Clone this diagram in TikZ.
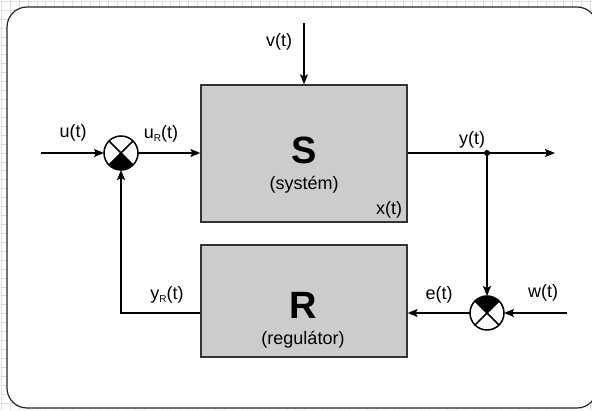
\documentclass[tikz,border=0pt]{standalone}
\usepackage{fontspec}
\setmainfont{Liberation Sans}
\usetikzlibrary{arrows.meta}
\newcommand{\subR}{\raisebox{-3pt}{\fontsize{10}{10}\selectfont R}}
\begin{document}
\begin{tikzpicture}[x=1pt,y=1pt,
  lbl/.style={font=\fontsize{18}{20}\selectfont, inner sep=0pt},
  title/.style={font=\fontsize{38}{40}\selectfont\bfseries, inner sep=0pt},
  block/.style={draw=black!80, fill=black!20, line width=1.3pt, minimum width=206pt, inner sep=0pt},
  sig/.style={line width=1.4pt, -{Stealth[length=10pt,width=8pt,inset=2pt]}},
  wire/.style={line width=1.4pt},
  sumj/.style={circle, draw, fill=white, line width=1.5pt, minimum size=34pt, inner sep=0pt, outer sep=0pt},
  gridline/.style={black!13, line width=0.6pt},
]
\useasboundingbox (0,0) rectangle (592,410);
\clip (0,0) rectangle (592,410);

% background grid
\foreach \i in {0,...,66} \draw[gridline] (1.1+\i*8.93,0) -- ++(0,410);
\foreach \i in {0,...,46} \draw[gridline] (0,408.9-\i*8.93) -- ++(592,0);

% sheet
\draw[fill=white, draw=black!85, line width=1.2pt, rounded corners=20pt] (7,2) rectangle (597,403);

% blocks
\node[block, minimum height=137pt] (S) at (304,256.5) {};
\node[block, minimum height=112pt] (R) at (304,109) {};
\node[title] (Sname) at (304,260) {S};
\node[lbl] (Sdesc) at (304,225) {(systém)};
\node[lbl] (xlab) at (389,200) {x(t)};
\node[title] (Rname) at (303,105) {R};
\node[lbl] (Rdesc) at (303,70) {(regulátor)};

% summing junctions
\node[sumj] (j1) at (121,257) {};
\node[sumj] (j2) at (487,97) {};
\fill (j1.center) -- (j1.225) arc[start angle=225, end angle=315, radius=17pt] -- cycle;
\fill (j2.center) -- (j2.45) arc[start angle=45, end angle=135, radius=17pt] -- cycle;
\draw[line width=1.5pt] (j1.45) -- (j1.225) (j1.135) -- (j1.315);
\draw[line width=1.5pt] (j2.45) -- (j2.225) (j2.135) -- (j2.315);

% free ends and branch point
\coordinate (uin) at (41,257);
\coordinate (yout) at (555,257);
\coordinate (ydot) at (487,257);
\coordinate (win) at (567,97);
\coordinate (vin) at (304,387);
\coordinate (fb) at (121,97);

% signals
\draw[sig] (uin) -- (j1.west);
\draw[sig] (j1.east) -- (j1.east -| S.west);
\draw[sig] (j1.east -| S.east) -- (yout);
\fill (ydot) circle (3pt);
\draw[sig] (ydot) -- (j2.north);
\draw[sig] (win) -- (j2.east);
\draw[sig] (j2.west) -- (j2.west -| R.east);
\draw[sig] (j2.west -| R.west) -- (fb) -- (j1.south);
\draw[sig] (vin) -- (S.north);

% signal labels
\node[lbl] (ulab) at (73,277) {u(t)};
\node[lbl] (uRlab) at (161,276) {u\subR(t)};
\node[lbl] (vlab) at (279,368) {v(t)};
\node[lbl] (ylab) at (472,270) {y(t)};
\node[lbl] (yRlab) at (167,115) {y\subR(t)};
\node[lbl] (elab) at (439,115) {e(t)};
\node[lbl] (wlab) at (543,117) {w(t)};
\end{tikzpicture}
\end{document}
